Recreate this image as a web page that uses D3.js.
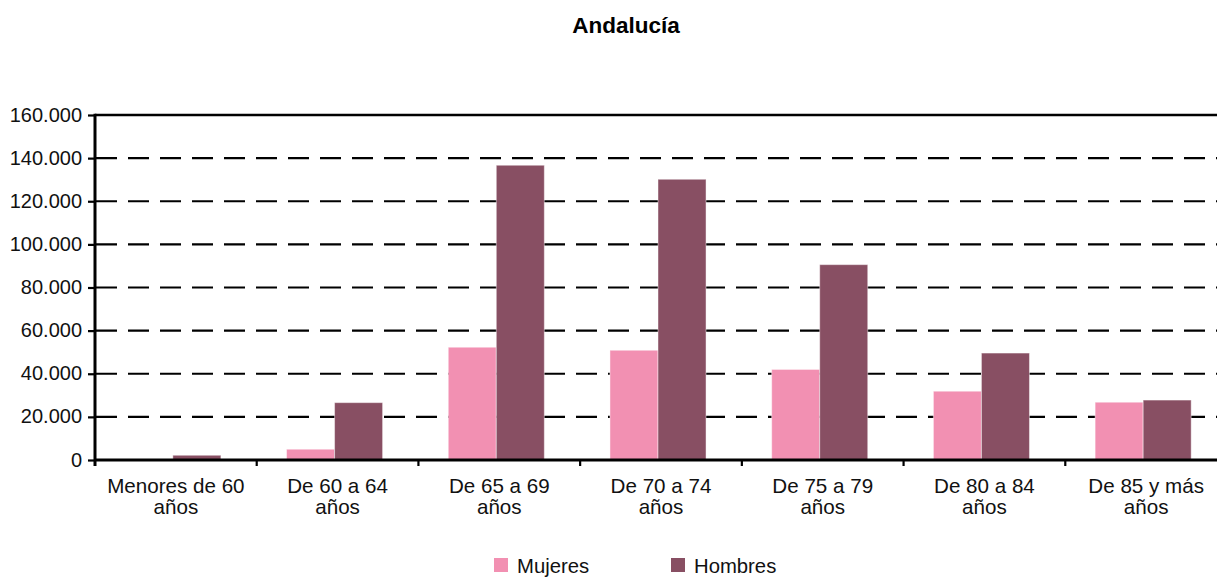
<!DOCTYPE html>
<html>
<head>
<meta charset="utf-8">
<script src="https://cdn.jsdelivr.net/npm/d3@7/dist/d3.min.js"></script>
<style>
  html, body { margin: 0; padding: 0; background: #fff; }
  svg { display: block; font-family: "Liberation Sans", Arial, sans-serif; }
</style>
</head>
<body>
<svg id="chart" width="1217" height="577"></svg>
<script>
const title = "Andalucía";
const categories = [
  ["Menores de 60", "años"],
  ["De 60 a 64", "años"],
  ["De 65 a 69", "años"],
  ["De 70 a 74", "años"],
  ["De 75 a 79", "años"],
  ["De 80 a 84", "años"],
  ["De 85 y más", "años"]
];
const seriesNames = ["Mujeres", "Hombres"];
const mujeres = [0, 5000, 52300, 50900, 42000, 31900, 26800];
const hombres = [2200, 26600, 136700, 130200, 90600, 49600, 27800];
const yTicks = [0, 20000, 40000, 60000, 80000, 100000, 120000, 140000, 160000];
const colors = ["#F290B2", "#884F63"];

(function () {
const svg = d3.select("#chart");
const pLeft = 95, pRight = 1227, pTop = 115, pBottom = 460;

const catKeys = categories.map(c => c.join(" "));
const x0 = d3.scaleBand().domain(catKeys).range([pLeft, pRight]).paddingInner(0.406).paddingOuter(0.203);
const x1 = d3.scaleBand().domain(seriesNames).range([0, x0.bandwidth()]).padding(0);
const y = d3.scaleLinear().domain([0, 160000]).range([pBottom, pTop]);
const fmt = v => d3.format(",")(v).replace(/,/g, ".");

// title
svg.append("text").attr("x", 626).attr("y", 33).attr("text-anchor", "middle")
  .attr("font-weight", "bold").attr("font-size", 22.5).attr("fill", "#000").text(title);

// gridlines (dashed)
svg.append("g").selectAll("line").data(yTicks.filter(t => t > 0 && t < 160000)).join("line")
  .attr("x1", pLeft + 1).attr("x2", 1217)
  .attr("y1", d => y(d)).attr("y2", d => y(d))
  .attr("stroke", "#000").attr("stroke-width", 2.2).attr("stroke-dasharray", "21,11");

// top solid line
svg.append("line").attr("x1", pLeft).attr("x2", 1217).attr("y1", y(160000)).attr("y2", y(160000))
  .attr("stroke", "#000").attr("stroke-width", 2.6);

// bars
const data = catKeys.map((k, i) => ({ key: k, vals: [mujeres[i], hombres[i]] }));
const shift = -3;
const groups = svg.append("g").selectAll("g").data(data).join("g")
  .attr("transform", d => `translate(${x0(d.key) + shift},0)`);
groups.selectAll("rect").data(d => d.vals.map((v, j) => ({ name: seriesNames[j], v, j })))
  .join("rect")
  .attr("x", d => x1(d.name))
  .attr("width", x1.bandwidth())
  .attr("y", d => y(d.v))
  .attr("height", d => pBottom - y(d.v))
  .attr("fill", d => colors[d.j])
  .attr("stroke", "rgba(255,255,255,0.45)").attr("stroke-width", 1);

// y axis
const yAxis = d3.axisLeft(y).tickValues(yTicks).tickFormat(fmt).tickSize(7).tickPadding(6);
const gy = svg.append("g").attr("transform", `translate(${pLeft},0)`).call(yAxis);
gy.select(".domain").remove();
gy.selectAll(".tick line").attr("stroke", "#000").attr("stroke-width", 2.2);
gy.selectAll(".tick text").attr("font-size", 20).attr("fill", "#111")
  .attr("font-family", "'Liberation Sans', Arial, sans-serif").attr("dy", "0.3em");
svg.append("line").attr("x1", pLeft).attr("x2", pLeft).attr("y1", pTop - 1.3).attr("y2", pBottom + 6)
  .attr("stroke", "#000").attr("stroke-width", 3);

// x axis
svg.append("line").attr("x1", pLeft).attr("x2", 1217).attr("y1", pBottom).attr("y2", pBottom)
  .attr("stroke", "#000").attr("stroke-width", 2.8);
const step = x0.step();
const boundaries = d3.range(catKeys.length).map(i => x0(catKeys[i]) - x0.paddingOuter() * step);
svg.append("g").selectAll("line").data(boundaries.slice(1)).join("line")
  .attr("x1", d => d).attr("x2", d => d).attr("y1", pBottom).attr("y2", pBottom + 6)
  .attr("stroke", "#000").attr("stroke-width", 2.2);

// category labels
const lab = svg.append("g").selectAll("text").data(categories).join("text")
  .attr("x", (d, i) => x0(catKeys[i]) + x0.bandwidth() / 2)
  .attr("y", 493).attr("text-anchor", "middle").attr("font-size", 20.6).attr("fill", "#111");
lab.selectAll("tspan").data(d => d).join("tspan")
  .attr("x", function () { return this.parentNode.getAttribute("x"); })
  .attr("dy", (d, j) => j === 0 ? 0 : 21).text(d => d);

// legend
const legendX = [494, 671];
const lg = svg.append("g").selectAll("g").data(seriesNames).join("g")
  .attr("transform", (d, i) => `translate(${legendX[i]},558)`);
lg.append("rect").attr("width", 14).attr("height", 14).attr("fill", (d, i) => colors[i]);
lg.append("text").attr("x", 23).attr("y", 14.5).attr("font-size", 20.3).attr("fill", "#111").text(d => d);
})();
</script>
</body>
</html>
